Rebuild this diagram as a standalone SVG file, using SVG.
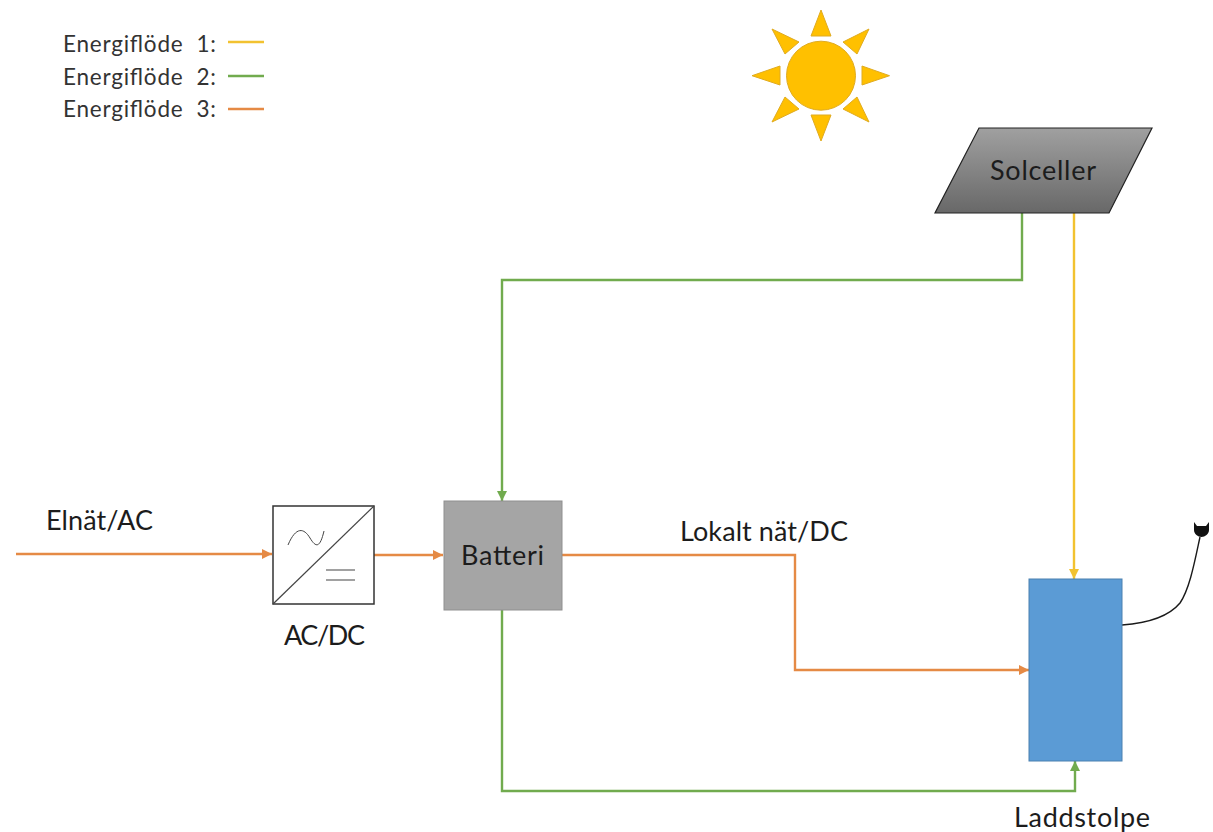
<svg xmlns="http://www.w3.org/2000/svg" width="1213" height="832" viewBox="0 0 1213 832">
<style>
text{font-family:Lato,"Noto Sans","Liberation Sans",sans-serif;fill:#1c1c1c;text-anchor:start}
.leg{font-size:22.5px;fill:#333}
.lab{font-size:27px}
.conn{fill:none;stroke-width:2.4}
.y{stroke:#f2c230}.g{stroke:#71ab4e}.o{stroke:#e58a45}
.ray{fill:#ffc000;stroke:#e0ab20;stroke-width:1}
</style>
<defs>
<linearGradient id="pv" x1="0" y1="0" x2="0" y2="1"><stop offset="0" stop-color="#a0a0a0"/><stop offset="1" stop-color="#686868"/></linearGradient>
<marker id="ay" markerUnits="userSpaceOnUse" markerWidth="11" markerHeight="11" refX="10" refY="5" orient="auto"><path d="M0 0L10 5L0 10Z" fill="#f2c230"/></marker>
<marker id="ag" markerUnits="userSpaceOnUse" markerWidth="11" markerHeight="11" refX="10" refY="5" orient="auto"><path d="M0 0L10 5L0 10Z" fill="#71ab4e"/></marker>
<marker id="ao" markerUnits="userSpaceOnUse" markerWidth="11" markerHeight="11" refX="10" refY="5" orient="auto"><path d="M0 0L10 5L0 10Z" fill="#e58a45"/></marker>
</defs>
<rect width="1213" height="832" fill="#fff"/>
<g id="legend">
<text class="leg" x="63" y="52" textLength="153" xml:space="preserve">Energiflöde  1:</text>
<text class="leg" x="63" y="85" textLength="153" xml:space="preserve">Energiflöde  2:</text>
<text class="leg" x="63" y="117" textLength="153" xml:space="preserve">Energiflöde  3:</text>
<path class="conn y" d="M228 42H264"/>
<path class="conn g" d="M228 76H264"/>
<path class="conn o" d="M228 109H264"/>
</g>
<g id="sun">
<circle cx="821" cy="75.7" r="34.5" fill="#ffc000" stroke="#e0ab20"/>
<path class="ray" d="M821 10L811 36H831Z"/>
<path class="ray" d="M889.5 75.7L862 66V85Z"/>
<path class="ray" d="M821 141L811 115H831Z"/>
<path class="ray" d="M752 75.7L780 66V85Z"/>
<path class="ray" d="M869 29L843 42L857 54Z"/>
<path class="ray" d="M772 29L799 42L785 54Z"/>
<path class="ray" d="M869 122L843 109L857 97Z"/>
<path class="ray" d="M772 122L799 109L785 97Z"/>
</g>
<g id="connectors">
<path class="conn y" d="M1074 213V579" marker-end="url(#ay)"/>
<path class="conn g" d="M1022 213V280H502V501" marker-end="url(#ag)"/>
<path class="conn g" d="M502 610V791H1075V761" marker-end="url(#ag)"/>
<path class="conn o" d="M16 554H272" marker-end="url(#ao)"/>
<path class="conn o" d="M374 555H443" marker-end="url(#ao)"/>
<path class="conn o" d="M562 555H795V670H1029" marker-end="url(#ao)"/>
<path d="M1122 625C1150 623 1170 615 1180 603C1190 588 1195 560 1200 537" fill="none" stroke="#1a1a1a" stroke-width="1.4"/>
</g>
<g id="solceller">
<path d="M979 128H1152L1109 213H935Z" fill="url(#pv)" stroke="#222" stroke-width="1.2"/>
<text class="lab" x="990" y="180" textLength="106">Solceller</text>
</g>
<g id="acdc">
<rect x="273" y="506" width="101" height="98" fill="#fff" stroke="#333" stroke-width="1.5"/>
<path d="M273 604L374 506" stroke="#444" stroke-width="1.2"/>
<path d="M288 545C296 526 304 528 310 538C316 548 320 548 324 531" fill="none" stroke="#444" stroke-width="1"/>
<path d="M326 570H355M326 580H355" stroke="#444" stroke-width="1.2"/>
<text class="lab" x="284" y="645" textLength="81">AC/DC</text>
</g>
<g id="batteri">
<rect x="444" y="501" width="118" height="109" fill="#a5a5a5" stroke="#8f8f8f"/>
<text class="lab" x="461" y="565" textLength="83">Batteri</text>
</g>
<g id="laddstolpe">
<rect x="1029" y="579" width="93" height="182" fill="#5b9bd5" stroke="#4a80b0"/>
<path d="M1194 522L1197 526H1206L1209 522V530C1209 534 1205 537 1201.500 537C1198 537 1194 534 1194 530Z" fill="#111"/>
<text class="lab" x="1014" y="827" textLength="136">Laddstolpe</text>
</g>
<g id="labels">
<text class="lab" x="46" y="530" textLength="107">Elnät/AC</text>
<text class="lab" x="680" y="541" textLength="168">Lokalt nät/DC</text>
</g>
</svg>
